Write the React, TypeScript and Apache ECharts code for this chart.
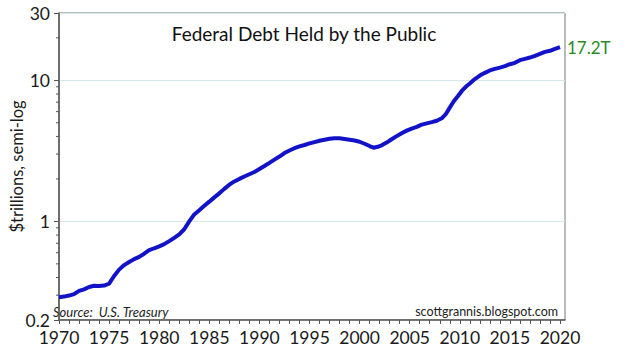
import React, { useEffect, useRef } from "react";
import * as echarts from "echarts";

const years = [
  1970.0, 1970.5, 1971.0, 1971.5, 1972.0, 1972.5, 1973.0, 1973.5, 1974.0, 1974.5,
  1975.0, 1975.5, 1976.0, 1976.5, 1977.0, 1977.5, 1978.0, 1978.5, 1979.0, 1979.5,
  1980.0, 1980.5, 1981.0, 1981.5, 1982.0, 1982.5, 1983.0, 1983.5, 1984.0, 1984.5,
  1985.0, 1985.5, 1986.0, 1986.5, 1987.0, 1987.5, 1988.0, 1988.5, 1989.0, 1989.5,
  1990.0, 1990.5, 1991.0, 1991.5, 1992.0, 1992.5, 1993.0, 1993.5, 1994.0, 1994.5,
  1995.0, 1995.5, 1996.0, 1996.5, 1997.0, 1997.5, 1998.0, 1998.5, 1999.0, 1999.5,
  2000.0, 2000.5, 2001.0, 2001.4, 2001.8, 2002.2, 2002.7, 2003.2, 2003.7, 2004.2,
  2004.7, 2005.2, 2005.7, 2006.2, 2006.7, 2007.2, 2007.7, 2008.2, 2008.6, 2009.0,
  2009.4, 2009.8, 2010.2, 2010.6, 2011.0, 2011.5, 2012.0, 2012.5, 2013.0, 2013.5,
  2014.0, 2014.5, 2015.0, 2015.5, 2016.0, 2016.5, 2017.0, 2017.5, 2018.0, 2018.5,
  2019.0, 2019.5, 2020.0,
];

const debtTrillions = [
  0.29, 0.293, 0.298, 0.305, 0.322, 0.33, 0.343, 0.35, 0.349, 0.351,
  0.362, 0.41, 0.455, 0.49, 0.515, 0.54, 0.56, 0.59, 0.625, 0.645,
  0.665, 0.69, 0.725, 0.765, 0.81, 0.88, 1.0, 1.12, 1.2, 1.29,
  1.38, 1.48, 1.58, 1.7, 1.82, 1.92, 2.0, 2.08, 2.16, 2.24,
  2.35, 2.47, 2.6, 2.74, 2.88, 3.05, 3.18, 3.3, 3.4, 3.48,
  3.57, 3.65, 3.73, 3.79, 3.85, 3.89, 3.88, 3.84, 3.79, 3.74,
  3.67, 3.55, 3.42, 3.33, 3.38, 3.46, 3.62, 3.82, 4.02, 4.22,
  4.4, 4.55, 4.68, 4.85, 4.95, 5.05, 5.17, 5.38, 5.75, 6.4,
  7.1, 7.7, 8.4, 9.0, 9.5, 10.2, 10.8, 11.3, 11.75, 12.05,
  12.3, 12.6, 13.0, 13.3, 13.9, 14.2, 14.5, 14.9, 15.4, 15.9,
  16.2, 16.7, 17.2,
];

const xLabelValues = [1970, 1975, 1980, 1985, 1990, 1995, 2000, 2005, 2010, 2015, 2020];
const xTickValues = [
  1970, 1971, 1972, 1973, 1974, 1975, 1976, 1977, 1978, 1979,
  1980, 1981, 1982, 1983, 1984, 1985, 1986, 1987, 1988, 1989,
  1990, 1991, 1992, 1993, 1994, 1995, 1996, 1997, 1998, 1999,
  2000, 2001, 2002, 2003, 2004, 2005, 2006, 2007, 2008, 2009,
  2010, 2011, 2012, 2013, 2014, 2015, 2016, 2017, 2018, 2019, 2020,
];
const yLabelValues = [0.2, 1, 10, 30];
const yMinorTicks = [0.3, 0.4, 0.5, 0.6, 0.7, 0.8, 0.9, 2, 3, 4, 5, 6, 7, 8, 9, 20];

const X_MIN = 1970;
const X_MAX = 2020.5;
const Y_MIN = 0.2;
const Y_MAX = 30;

const titleText = "Federal Debt Held by the Public";
const yAxisTitle = "$trillions, semi-log";
const sourceText = "Source:  U.S. Treasury";
const creditText = "scottgrannis.blogspot.com";

const FONT = "Lato, 'Open Sans', sans-serif";

export default function App() {
  const ref = useRef<HTMLDivElement>(null);

  useEffect(() => {
    if (!ref.current) return;
    const chart = echarts.init(ref.current, null, { renderer: "svg" });
    const lineData = years.map((y, i) => [y, debtTrillions[i]]);
    const minorData = yMinorTicks.map((v) => [X_MIN, v]);
    const yLabelData = yLabelValues.map((v) => [X_MIN, v]);

    chart.setOption({
      animation: false,
      backgroundColor: "#ffffff",
      textStyle: { fontFamily: FONT },
      grid: {
        left: 49,
        right: 75,
        top: 13,
        bottom: 32,
        show: true,
        borderColor: "#777777",
        borderWidth: 1,
        backgroundColor: "transparent",
      },
      xAxis: {
        type: "value",
        min: X_MIN,
        max: X_MAX,
        axisLine: { show: true, lineStyle: { color: "#555555", width: 1.5 } },
        axisTick: {
          show: true,
          customValues: xTickValues,
          length: 4,
          lineStyle: { color: "#555555", width: 1 },
        },
        axisLabel: {
          customValues: xLabelValues,
          fontSize: 17.5,
          color: "#1a1a1a",
          margin: 8,
          fontFamily: FONT,
          formatter: (v: number) => String(v),
        },
        splitLine: { show: false },
      },
      yAxis: {
        type: "log",
        logBase: 10,
        min: Y_MIN,
        max: Y_MAX,
        name: yAxisTitle,
        nameLocation: "middle",
        nameRotate: 90,
        nameGap: 34,
        nameTextStyle: { fontSize: 16.5, color: "#1a1a1a", fontFamily: FONT },
        axisLine: { show: true, lineStyle: { color: "#555555", width: 1.5 } },
        axisTick: { show: true, length: 5, lineStyle: { color: "#555555", width: 1 } },
        axisLabel: { show: false },
        splitLine: { show: true, lineStyle: { color: "#d6e7ea", width: 1 } },
      },
      graphic: [
        {
          type: "text",
          x: 304,
          y: 33,
          style: {
            text: titleText,
            fontSize: 19,
            fontFamily: FONT,
            fill: "#111111",
            textAlign: "center",
            textVerticalAlign: "middle",
          },
        },
        {
          type: "text",
          x: 53,
          y: 312,
          style: {
            text: sourceText,
            fontSize: 13,
            fontStyle: "italic",
            fontFamily: FONT,
            fill: "#222222",
            textAlign: "left",
            textVerticalAlign: "middle",
          },
        },
        {
          type: "text",
          x: 558,
          y: 311,
          style: {
            text: creditText,
            fontSize: 12.5,
            fontFamily: FONT,
            fill: "#222222",
            textAlign: "right",
            textVerticalAlign: "middle",
          },
        },
      ],
      series: [
        {
          type: "line",
          data: lineData,
          showSymbol: false,
          smooth: false,
          lineStyle: { color: "#1212c8", width: 4 },
          itemStyle: { color: "#1212c8" },
          endLabel: {
            show: true,
            distance: 7,
            fontSize: 17,
            color: "#2a8a2a",
            fontFamily: FONT,
            formatter: (p: any) => `${Number(p.value[1]).toFixed(1)}T`,
          },
          z: 3,
        },
        {
          type: "custom",
          data: minorData,
          silent: true,
          clip: false,
          z: 4,
          renderItem: (params: any, api: any) => {
            const p = api.coord([api.value(0), api.value(1)]);
            return {
              type: "line",
              shape: { x1: p[0] - 3, y1: p[1], x2: p[0], y2: p[1] },
              style: { stroke: "#555555", lineWidth: 1 },
            };
          },
        },
        {
          type: "custom",
          data: yLabelData,
          silent: true,
          clip: false,
          z: 4,
          renderItem: (params: any, api: any) => {
            const p = api.coord([api.value(0), api.value(1)]);
            return {
              type: "text",
              x: p[0] - 9,
              y: p[1],
              style: {
                text: String(api.value(1)),
                fontSize: 17.5,
                fontFamily: FONT,
                fill: "#1a1a1a",
                textAlign: "right",
                textVerticalAlign: "middle",
              },
            };
          },
        },
      ],
    });

    return () => chart.dispose();
  }, []);

  return (
    <div
      ref={ref}
      style={{ position: "fixed", left: 0, top: 0, width: 640, height: 352 }}
    />
  );
}
